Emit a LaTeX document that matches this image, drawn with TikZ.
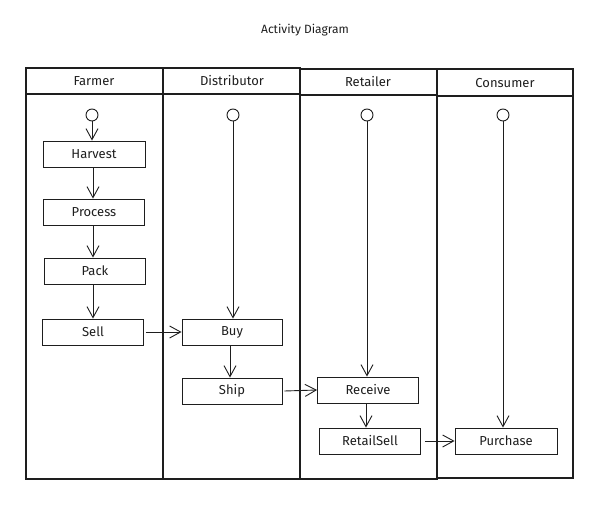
\documentclass[tikz,border=0pt]{standalone}
\usepackage{fontspec}
\setmainfont{Fira Sans}
\usetikzlibrary{arrows.meta}
\definecolor{ink}{HTML}{1E1E1E}
\tikzset{
  lane/.style={draw=ink, line width=1.1pt},
  act/.style={draw=ink, line width=0.9pt, minimum width=101pt, minimum height=26pt, inner sep=0pt, font=\fontsize{13}{15}\selectfont, text=ink},
  startnode/.style={circle, draw=ink, line width=0.9pt, minimum size=12pt, inner sep=0pt},
  flow/.style={draw=ink, line width=0.9pt, -{Straight Barb[length=11pt,width=12pt,line width=0.9pt]}},
  hdr/.style={font=\fontsize{13}{15}\selectfont, text=ink}
}
\begin{document}
\begin{tikzpicture}[x=1pt,y=-1pt]
\useasboundingbox (0,0) rectangle (595,508);
% title
\node[font=\fontsize{12}{14}\selectfont, text=ink] (title) at (305,30) {Activity Diagram};
% lanes
\draw[lane] (26,68) rectangle (163,479);
\draw[lane] (26,68) -- (163,68) -- (163,94) -- (26,94) -- cycle;
\draw[lane] (163,68) rectangle (300,479);
\draw[lane] (163,94) -- (300,94);
\draw[lane] (300,69) rectangle (437,479);
\draw[lane] (300,95) -- (437,95);
\draw[lane] (437,69) rectangle (573,478);
\draw[lane] (437,96) -- (573,96);
\node[hdr] (hF) at (94,81) {Farmer};
\node[hdr] (hD) at (232,81) {Distributor};
\node[hdr] (hR) at (368,82) {Retailer};
\node[hdr] (hC) at (505,83) {Consumer};
% start nodes
\node[startnode] (s1) at (92,115) {};
\node[startnode] (s2) at (233,115) {};
\node[startnode] (s3) at (367,115) {};
\node[startnode] (s4) at (503,115) {};
% activities
\node[act, minimum width=102pt] (harvest) at (94,154) {Harvest};
\node[act, minimum width=101pt] (process) at (94,212) {Process};
\node[act, minimum width=101pt] (pack) at (95,271) {Pack};
\node[act, minimum width=101pt] (sell) at (93,332) {Sell};
\node[act, minimum width=100pt] (buy) at (232,332) {Buy};
\node[act, minimum width=100pt] (ship) at (232,391) {Ship};
\node[act, minimum width=101pt] (receive) at (368,390) {Receive};
\node[act, minimum width=101pt] (retailsell) at (370,441) {RetailSell};
\node[act, minimum width=102pt] (purchase) at (506,441) {Purchase};
% flows
\draw[flow] (s1) -- (s1 |- harvest.north);
\draw[flow] (harvest.south -| 93,0) -- (process.north -| 93,0);
\draw[flow] (process.south -| 93,0) -- (pack.north -| 93,0);
\draw[flow] (pack.south -| 93,0) -- (sell.north -| 93,0);
\draw[flow] ([xshift=2pt]sell.east) -- (buy.west);
\draw[flow] (s2) -- (s2 |- buy.north);
\draw[flow] (buy.south -| 230,0) -- (ship.north -| 230,0);
\draw[flow] ([xshift=2pt]ship.east) -- (receive.west);
\draw[flow] (s3) -- (s3 |- receive.north);
\draw[flow] (receive.south -| 366,0) -- (retailsell.north -| 366,0);
\draw[flow] ([xshift=4pt]retailsell.east) -- (purchase.west);
\draw[flow] (s4) -- (s4 |- purchase.north);
\end{tikzpicture}
\end{document}
